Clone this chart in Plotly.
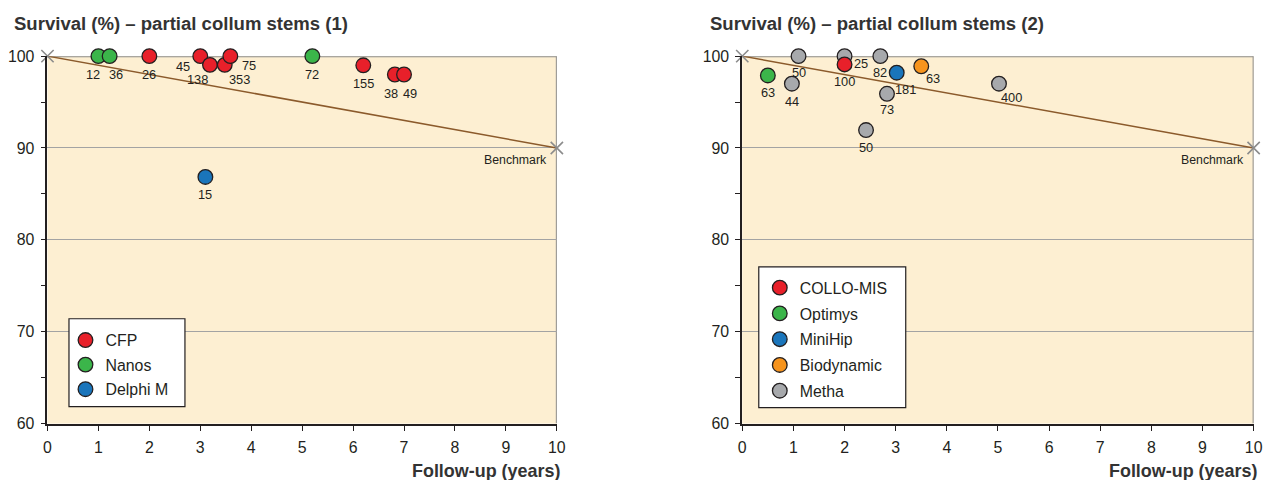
import plotly.graph_objects as go

W, H = 1263, 480

# ---- Chart 1 data ----
cfp_x = [2.0, 3.0, 3.19, 3.48, 3.59, 6.2, 6.82, 7.0]
cfp_y = [100, 100, 99.05, 99.05, 100, 99.0, 98.0, 98.0]
cfp_n = ["26", "45", "138", "353", "75", "155", "38", "49"]

nanos_x = [1.0, 1.22, 5.2]
nanos_y = [100, 100, 100]
nanos_n = ["12", "36", "72"]

delphi_x = [3.1]
delphi_y = [86.85]
delphi_n = ["15"]

# ---- Chart 2 data ----
collo_x = [2.0]
collo_y = [99.1]
collo_n = ["100"]

optimys_x = [0.5]
optimys_y = [97.9]
optimys_n = ["63"]

minihip_x = [3.02]
minihip_y = [98.2]
minihip_n = ["181"]

biodyn_x = [3.5]
biodyn_y = [98.9]
biodyn_n = ["63"]

metha_x = [1.1, 0.97, 2.0, 2.7, 2.83, 2.42, 5.02]
metha_y = [100, 97, 100, 100, 95.9, 91.95, 97]
metha_n = ["50", "44", "25", "82", "73", "50", "400"]

bench_x = [0, 10]
bench_y = [100, 90]

x_ticks = list(range(0, 11))
y_ticks = [60, 70, 80, 90, 100]

# label offsets in pixels (dx right, dy down) - style only
cfp_off = [(0, 17.7), (-17, 10), (-12.7, 14.3), (14.3, 14.3), (18.7, 9), (0, 18), (-4, 18), (6, 18)]
nanos_off = [(-5.7, 17.7), (6, 17.7), (0, 18)]
delphi_off = [(0, 17.3)]
metha_off = [(0, 16), (0, 17), (16, 6.7), (-0.7, 16), (0, 15.3), (0, 17.3), (12.5, 13.3)]
collo_off = [(0, 16.3)]
optimys_off = [(0, 16.2)]
minihip_off = [(9, 16.5)]
biodyn_off = [(11.7, 12.2)]

RED = "#E8202A"
GREEN = "#3BB54A"
BLUE = "#1A75BB"
ORANGE = "#F7941D"
GRAY = "#A7A9AC"
FONT = "Liberation Sans, Arial, sans-serif"
TXT = "#231F20"

# screen calibration (rendered = A * layout_px + B)
AX, BX = 0.99, 3.0
AY, BY = 0.966, 7.8
FS = 1.025  # font/marker size compensation


def px(v):
    return ((v - BX) / AX) / W


def py(v):
    return 1 - ((v - BY) / AY) / H


fig = go.Figure()

for xa, ya in [("x", "y"), ("x2", "y2")]:
    fig.add_trace(go.Scatter(
        x=bench_x, y=bench_y, mode="lines+markers", showlegend=False,
        line=dict(color="#8B5A2B", width=1.5),
        marker=dict(symbol="x-thin", size=12 * FS, line=dict(color="#8C8C8C", width=1.6)),
        xaxis=xa, yaxis=ya, cliponaxis=False, hoverinfo="skip",
    ))


def add_pts(x, y, n, color, name, xa, ya, legend, offs, rank):
    fig.add_trace(go.Scatter(
        x=x, y=y, mode="markers", name=name,
        marker=dict(size=14.3 * FS, color=color, line=dict(color="#231F20", width=1.3)),
        xaxis=xa, yaxis=ya, legend=legend, legendrank=rank, legendgroup=name,
        cliponaxis=False,
    ))
    for xi, yi, t, (dx, dy) in zip(x, y, n, offs):
        fig.add_annotation(xref=xa, yref=ya, x=xi, y=yi, text=t, showarrow=False,
                           xanchor="center", yanchor="middle", xshift=dx / AX, yshift=-dy / AY,
                           font=dict(family=FONT, size=12.5 * FS, color=TXT))


add_pts(nanos_x, nanos_y, nanos_n, GREEN, "Nanos", "x", "y", "legend", nanos_off, 2)
add_pts(cfp_x, cfp_y, cfp_n, RED, "CFP", "x", "y", "legend", cfp_off, 1)
add_pts(delphi_x, delphi_y, delphi_n, BLUE, "Delphi M", "x", "y", "legend", delphi_off, 3)

add_pts(metha_x, metha_y, metha_n, GRAY, "Metha", "x2", "y2", "legend2", metha_off, 5)
add_pts(collo_x, collo_y, collo_n, RED, "COLLO-MIS", "x2", "y2", "legend2", collo_off, 1)
add_pts(optimys_x, optimys_y, optimys_n, GREEN, "Optimys", "x2", "y2", "legend2", optimys_off, 2)
add_pts(minihip_x, minihip_y, minihip_n, BLUE, "MiniHip", "x2", "y2", "legend2", minihip_off, 3)
add_pts(biodyn_x, biodyn_y, biodyn_n, ORANGE, "Biodynamic", "x2", "y2", "legend2", biodyn_off, 4)

xdom1 = [px(46.5), px(556)]
xdom2 = [px(741.5), px(1253)]
ydom = [py(424), py(56)]

xcommon = dict(range=[0, 10], tickvals=x_ticks, ticks="outside", ticklen=6, tickcolor="#231F20",
               tickwidth=1.2, showline=True, linecolor="#231F20", linewidth=1.8, showgrid=False,
               zeroline=False, ticklabelstandoff=2,
               tickfont=dict(family=FONT, size=15.5 * FS, color=TXT), fixedrange=True)
ycommon = dict(range=[60, 100], tickvals=y_ticks, ticks="outside", ticklen=5, tickcolor="#231F20",
               tickwidth=1.2, showline=True, linecolor="#231F20", linewidth=1.8, showgrid=True,
               gridcolor="#A3A3A3", gridwidth=1.2, zeroline=False, ticklabelstandoff=3,
               tickfont=dict(family=FONT, size=15.5 * FS, color=TXT),
               minor=dict(dtick=5, ticks="outside", ticklen=5, tickcolor="#231F20", tickwidth=1.2,
                          showgrid=False),
               fixedrange=True)

legfont = dict(family=FONT, size=15.5 * FS, color=TXT)
fig.update_layout(
    width=W, height=H, margin=dict(l=0, r=0, t=0, b=0),
    paper_bgcolor="white", plot_bgcolor="#FDEFD2",
    xaxis=dict(domain=xdom1, anchor="y", **xcommon),
    yaxis=dict(domain=ydom, anchor="x", **ycommon),
    xaxis2=dict(domain=xdom2, anchor="y2", **xcommon),
    yaxis2=dict(domain=ydom, anchor="x2", **ycommon),
    legend=dict(x=px(64.5), y=py(323.5), xanchor="left", yanchor="top", bgcolor="rgba(0,0,0,0)",
                borderwidth=0, font=legfont, itemwidth=30, tracegroupgap=0.9,
                itemclick=False, itemdoubleclick=False),
    legend2=dict(x=px(759), y=py(271), xanchor="left", yanchor="top", bgcolor="rgba(0,0,0,0)",
                 borderwidth=0, font=legfont, itemwidth=30, tracegroupgap=2.1,
                 itemclick=False, itemdoubleclick=False),
    showlegend=True,
)

# legend boxes
for x0, y0, x1, y1 in [(68, 319, 184, 407), (758, 267, 905, 408)]:
    fig.add_shape(type="rect", xref="paper", yref="paper", x0=px(x0), x1=px(x1), y0=py(y1), y1=py(y0),
                  fillcolor="white", line=dict(color="#231F20", width=1.2), layer="above")

# gray frame on top/right
for xr, yr in [("x", "y"), ("x2", "y2")]:
    fig.add_shape(type="line", xref=xr, yref=yr, x0=0, x1=10, y0=100, y1=100,
                  line=dict(color="#8C8C8C", width=2), layer="below")
    fig.add_shape(type="line", xref=xr, yref=yr, x0=10, x1=10, y0=60, y1=100,
                  line=dict(color="#8C8C8C", width=2), layer="below")
    fig.add_annotation(xref=xr, yref=yr, x=10, y=90, text="Benchmark", showarrow=False,
                       xanchor="right", yanchor="top", xshift=-8 / AX, yshift=-3 / AY,
                       font=dict(family=FONT, size=12 * FS, color=TXT))

titles = ["Survival (%) – partial collum stems (1)", "Survival (%) – partial collum stems (2)"]
for t, x0 in zip(titles, [11, 707]):
    fig.add_annotation(xref="paper", yref="paper", x=px(x0), y=py(23), text=f"<b>{t}</b>",
                       showarrow=False, xanchor="left", yanchor="middle",
                       font=dict(family=FONT, size=18.1 * FS, color="#333333"))

for x1 in [561, 1258]:
    fig.add_annotation(xref="paper", yref="paper", x=px(x1), y=py(471), text="<b>Follow-up (years)</b>",
                       showarrow=False, xanchor="right", yanchor="middle",
                       font=dict(family=FONT, size=17.5 * FS, color="#333333"))

fig.write_html("out.html", config={"displayModeBar": False},
               post_script="document.body.style.margin='0';document.documentElement.style.overflow='hidden';document.body.style.overflow='hidden';")
